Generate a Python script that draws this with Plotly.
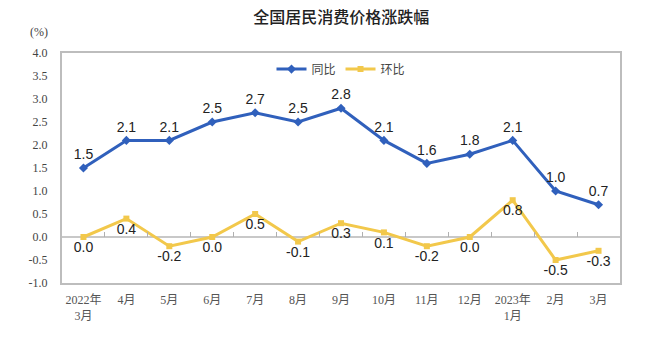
import plotly.graph_objects as go

months = ["2022年<br>3月", "4月", "5月", "6月", "7月", "8月", "9月", "10月",
          "11月", "12月", "2023年<br>1月", "2月", "3月"]
yoy = [1.5, 2.1, 2.1, 2.5, 2.7, 2.5, 2.8, 2.1, 1.6, 1.8, 2.1, 1.0, 0.7]
mom = [0.0, 0.4, -0.2, 0.0, 0.5, -0.1, 0.3, 0.1, -0.2, 0.0, 0.8, -0.5, -0.3]
y_ticks = [-1.0, -0.5, 0.0, 0.5, 1.0, 1.5, 2.0, 2.5, 3.0, 3.5, 4.0]

BLUE = "#3060BC"
YELLOW = "#F2C84B"
label_font = dict(family="Liberation Sans, Arial, sans-serif", size=14, color="#222")

fig = go.Figure()
fig.add_trace(go.Scatter(
    x=months, y=yoy, name="同比", mode="lines+markers+text",
    line=dict(color=BLUE, width=3), marker=dict(symbol="diamond", size=7, color=BLUE),
    text=[f"{v:.1f}" for v in yoy], textposition="top center", textfont=label_font,
    cliponaxis=False,
))
fig.add_trace(go.Scatter(
    x=months, y=mom, name="环比", mode="lines+markers+text",
    line=dict(color=YELLOW, width=3), marker=dict(symbol="square", size=6, color=YELLOW),
    text=[f"{v:.1f}" for v in mom], textposition="bottom center", textfont=label_font,
    cliponaxis=False,
))
# helper trace for the tick marks on the zero line
fig.add_trace(go.Scatter(x=months, y=[0] * len(months), xaxis="x2", mode="lines",
                         line=dict(width=0), opacity=0, showlegend=False, hoverinfo="skip"))

fig.update_layout(
    width=660, height=346,
    margin=dict(l=62, r=40, t=53, b=63),
    paper_bgcolor="white", plot_bgcolor="white",
    title=dict(text="全国居民消费价格涨跌幅", x=0.517, xanchor="center", y=0.95, yanchor="middle",
               font=dict(family="Noto Sans CJK SC", size=16, color="#222", weight=500)),
    showlegend=True,
    legend=dict(orientation="h", x=0.5, xanchor="center", y=0.93, yanchor="middle",
                font=dict(family="Noto Sans CJK SC", size=12, color="#444"),
                bgcolor="rgba(0,0,0,0)", itemwidth=30, tracegroupgap=0),
    xaxis=dict(type="category", categoryorder="array", categoryarray=months,
               range=[-0.5, len(months) - 0.5],
               showline=True, linecolor="#BDBDBD", linewidth=2, mirror=True,
               showgrid=False, ticks="", zeroline=False, ticklabelstandoff=5,
               tickfont=dict(family="Liberation Serif, Noto Sans CJK SC", size=12, color="#555")),
    xaxis2=dict(type="category", categoryorder="array", categoryarray=months,
                range=[-0.5, len(months) - 0.5], overlaying="x", anchor="free", position=0.2,
                showline=False, showgrid=False, showticklabels=False,
                ticks="inside", tickson="boundaries", ticklen=5, tickcolor="#B0B0B0", tickwidth=1),
    yaxis=dict(range=[-1, 4], tickvals=y_ticks, ticktext=[f"{v:.1f}" for v in y_ticks],
               showgrid=False, zeroline=True, zerolinecolor="#C8C8C8", zerolinewidth=2,
               showline=True, linecolor="#BDBDBD", linewidth=2, mirror=True, ticks="",
               ticklabelstandoff=10,
               tickfont=dict(family="Liberation Serif, serif", size=12, color="#444")),
    annotations=[dict(text="(%)", xref="paper", yref="paper", x=-0.061, y=1.09,
                      xanchor="left", yanchor="middle", showarrow=False,
                      font=dict(family="Liberation Serif, serif", size=12, color="#444"))],
)

fig.write_html("out.html")
